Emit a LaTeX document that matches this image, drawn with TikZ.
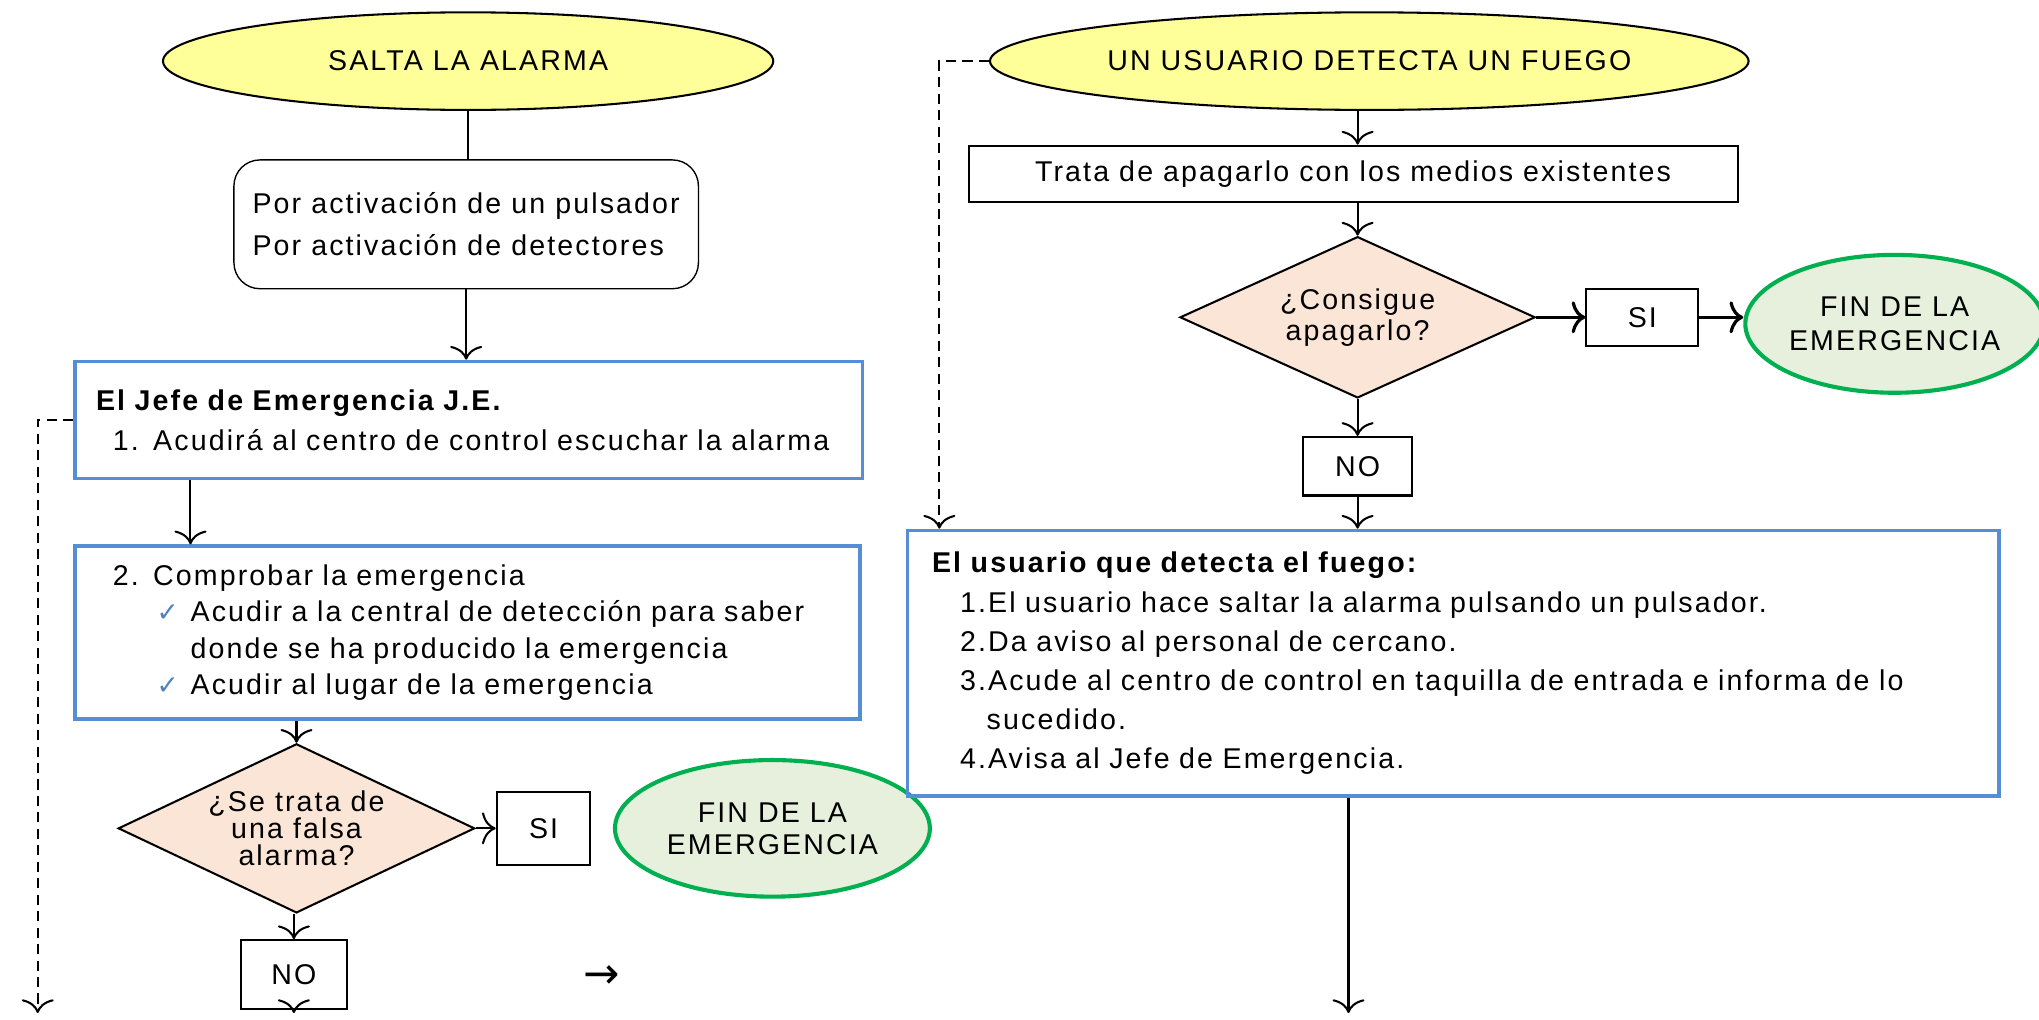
\documentclass[tikz,border=0pt]{standalone}
\usepackage{fontspec}
\setmainfont[LetterSpace=7.4]{Liberation Sans}
\newfontfamily\tickfont{DejaVu Sans}
\usetikzlibrary{shapes.geometric, arrows.meta}

\definecolor{alarmyellow}{HTML}{FFFF99}
\definecolor{askpeach}{HTML}{FBE5D6}
\definecolor{endgreen}{HTML}{00B050}
\definecolor{endfill}{HTML}{E6F0DC}
\definecolor{stepblue}{HTML}{558ED5}
\definecolor{tickblue}{HTML}{4F81BD}

\newcommand{\tick}{{\tickfont\color{tickblue}\fontsize{5.8}{7}\selectfont ✓}}

\tikzset{
  startoval/.style={ellipse, draw, fill=alarmyellow, line width=0.45pt, inner sep=0pt},
  causebox/.style={draw, rounded corners=0.2cm, line width=0.3pt, align=left, inner sep=0pt},
  stepbox/.style={draw=stepblue, line width=0.8pt, align=left, inner ysep=0pt},
  plainbox/.style={draw, line width=0.45pt, inner sep=0pt},
  askdiamond/.style={diamond, draw, fill=askpeach, line width=0.45pt, inner sep=0pt, aspect=2, align=center},
  endoval/.style={ellipse, draw=endgreen, fill=endfill, line width=0.9pt, inner sep=0pt, align=center},
  link/.style={->, line width=0.45pt},
  dashedlink/.style={->, line width=0.45pt, dash pattern=on 2.2pt off 1.4pt}
}

\begin{document}
\begin{tikzpicture}[x=0.01cm, y=-0.01cm, font=\fontsize{6.25}{7}\selectfont,
  >={To[width=7pt,length=3pt]}]
  \useasboundingbox (0,0) rectangle (1568,784);

  % Left column: the alarm goes off
  \node[startoval, minimum width=4.69cm, minimum height=0.75cm] (alarm) at (360,47) {SALTA LA ALARMA};
  \node[causebox, minimum width=3.57cm, minimum height=0.99cm, font=\fontsize{6.25}{9.1}\selectfont] (causes) at (358.5,172.5)
    {Por activación de un pulsador\\Por activación de detectores};
  \node[stepbox, text width=5.73cm, inner xsep=0.16cm, minimum height=0.90cm, font=\fontsize{6.25}{8.8}\selectfont] (chief) at (360.5,323)
    {\textbf{El Jefe de Emergencia J.E.}\\
     \hspace*{0.13cm}1. Acudirá al centro de control escuchar la alarma};
  \node[stepbox, text width=5.71cm, inner xsep=0.16cm, minimum height=1.33cm, font=\fontsize{6.25}{7.97}\selectfont] (verify) at (359.5,486.5)
    {\hspace*{0.13cm}2. Comprobar la emergencia\\
     \makebox[0.727cm][l]{\hspace*{0.465cm}\tick}Acudir a la central de detección para saber\\
     \hspace*{0.727cm}donde se ha producido la emergencia\\
     \makebox[0.727cm][l]{\hspace*{0.465cm}\tick}Acudir al lugar de la emergencia};
  \node[askdiamond, minimum width=2.74cm, minimum height=1.30cm, font=\fontsize{6.25}{5.9}\selectfont] (ask1) at (228,637)
    {¿Se trata de\\una falsa\\alarma?};
  \node[plainbox, minimum width=0.72cm, minimum height=0.56cm] (yes1) at (418,637) {SI};
  \node[endoval, minimum width=2.42cm, minimum height=1.05cm, font=\fontsize{6.25}{7}\selectfont] (end1) at (594,637)
    {FIN DE LA\\EMERGENCIA};
  \node[plainbox, minimum width=0.81cm, minimum height=0.53cm] (no1) at (226,749.5) {NO};
  \node[inner sep=0pt, font=\tickfont\fontsize{9.5}{10}\selectfont] (stray) at (463,751) {→};
  \coordinate (leftend) at (29,779);
  \coordinate (midend) at (226,779);

  % Right column: a user finds the fire
  \node[startoval, minimum width=5.83cm, minimum height=0.75cm] (user) at (1053,47) {UN USUARIO DETECTA UN FUEGO};
  \node[plainbox, minimum width=5.91cm, minimum height=0.43cm] (fight) at (1040.5,133.5) {Trata de apagarlo con los medios existentes};
  \node[askdiamond, minimum width=2.73cm, minimum height=1.24cm, font=\fontsize{6.25}{6.8}\selectfont] (ask2) at (1044,244)
    {¿Consigue\\apagarlo?};
  \node[plainbox, minimum width=0.86cm, minimum height=0.44cm] (yes2) at (1263,244) {SI};
  \node[endoval, minimum width=2.22cm, minimum height=1.06cm, font=\fontsize{6.25}{7.4}\selectfont] (end2) at (1457,249)
    {FIN DE LA\\EMERGENCIA};
  \node[plainbox, minimum width=0.84cm, minimum height=0.45cm] (no2) at (1044,358.5) {NO};
  \node[stepbox, text width=8.01cm, inner xsep=0.19cm, minimum height=2.04cm, font=\fontsize{6.25}{8.54}\selectfont] (userbox) at (1117.5,510)
    {\textbf{El usuario que detecta el fuego:}\\
     \hspace*{0.215cm}1.El usuario hace saltar la alarma pulsando un pulsador.\\
     \hspace*{0.215cm}2.Da aviso al personal de cercano.\\
     \hspace*{0.215cm}3.Acude al centro de control en taquilla de entrada e informa de lo\\
     \hspace*{0.42cm}sucedido.\\
     \hspace*{0.215cm}4.Avisa al Jefe de Emergencia.};
  \coordinate (rightend) at (1037,779);

  % Connectors
  \draw[line width=0.45pt] (alarm.south) -- (alarm.south |- causes.north);
  \draw[link] (causes.south) -- (causes.south |- chief.north);
  \draw[link] ([xshift=0.9cm]chief.south west) -- ([xshift=0.9cm]verify.north west);
  \draw[link] (verify.south -| ask1.north) -- (ask1.north);
  \draw[link] (ask1.east) -- (yes1.west);
  \draw[link] (ask1.south -| no1.north) -- (no1.north);
  \draw[link] (no1.south) -- (midend);
  \draw[dashedlink] (chief.west) -| (leftend);

  \draw[link] (user.south -| ask2.north) -- (ask2.north |- fight.north);
  \draw[link] (fight.south -| ask2.north) -- (ask2.north);
  \draw[link, line width=0.7pt] (ask2.east) -- (yes2.west);
  \draw[link, line width=0.7pt] (yes2.east) -- (yes2.east -| end2.west);
  \draw[link] (ask2.south) -- (no2.north);
  \draw[link] (no2.south) -- (no2.south |- userbox.north);
  \draw[dashedlink] (user.west) -| ([xshift=0.26cm]userbox.north west);
  \draw[link] (userbox.south -| rightend) -- (rightend);
\end{tikzpicture}
\end{document}
